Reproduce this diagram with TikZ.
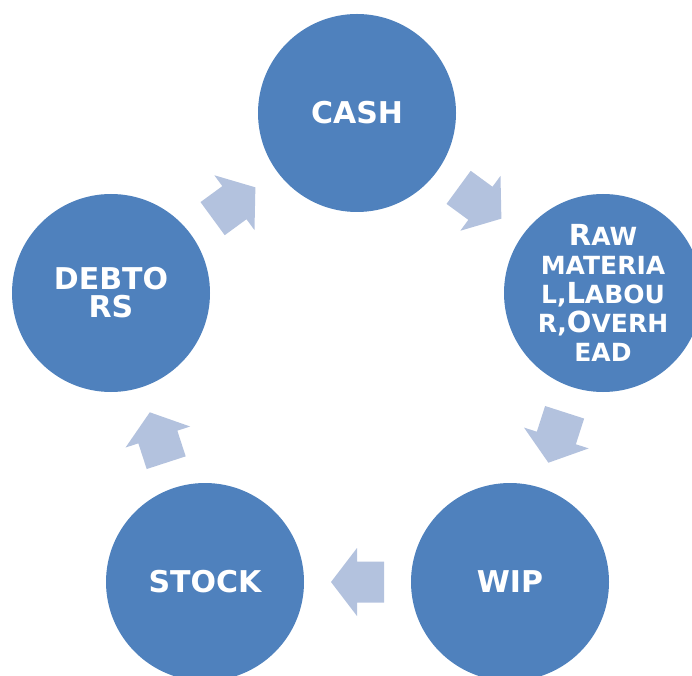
\documentclass[tikz,border=0pt]{standalone}
\usepackage{fontspec}
\setmainfont{DejaVu Sans}
\usetikzlibrary{calc}

\definecolor{stageblue}{RGB}{79,129,189}
\definecolor{linkblue}{RGB}{179,194,222}

\newcommand{\capl}[1]{{\fontsize{29}{29}\selectfont #1}}
\newcommand{\cyclink}[2]{\path let \p1=($(#2)-(#1)$), \n1={atan2(\y1,\x1)} in ($(#1)!0.5!(#2)$) pic[rotate=\n1] {linkarrow};}

\tikzset{
  stage/.style={circle, fill=stageblue, text=white, minimum size=198pt, inner sep=0pt,
    align=center, font=\bfseries\fontsize{30}{30}\selectfont},
  linkarrow/.pic={\fill[linkblue] (-26.5,20.5) -- (0.5,20.5) -- (0.5,34) -- (26.5,0)
    -- (0.5,-34) -- (0.5,-20.5) -- (-26.5,-20.5) -- cycle;}
}

\begin{document}
\begin{tikzpicture}[x=1pt, y=1pt]
        \useasboundingbox (0,0) rectangle (692,675);

        \node[stage] (cash) at (357,562) {CASH};
        \node[stage, font=\bfseries\fontsize{25}{29}\selectfont] (raw) at (603,382)
          {\capl{R}AW\\MATERIA\\L,\capl{L}ABOU\\R,\capl{O}VERH\\EAD};
        \node[stage] (wip) at (510,93) {WIP};
        \node[stage] (stock) at (205,93) {STOCK};
        \node[stage, font=\bfseries\fontsize{30}{28}\selectfont] (debtors) at (111,382) {DEBTO\\RS};

        \cyclink{cash}{raw}
        \cyclink{raw}{wip}
        \cyclink{wip}{stock}
        \cyclink{stock}{debtors}
        \cyclink{debtors}{cash}

\end{tikzpicture}
\end{document}
